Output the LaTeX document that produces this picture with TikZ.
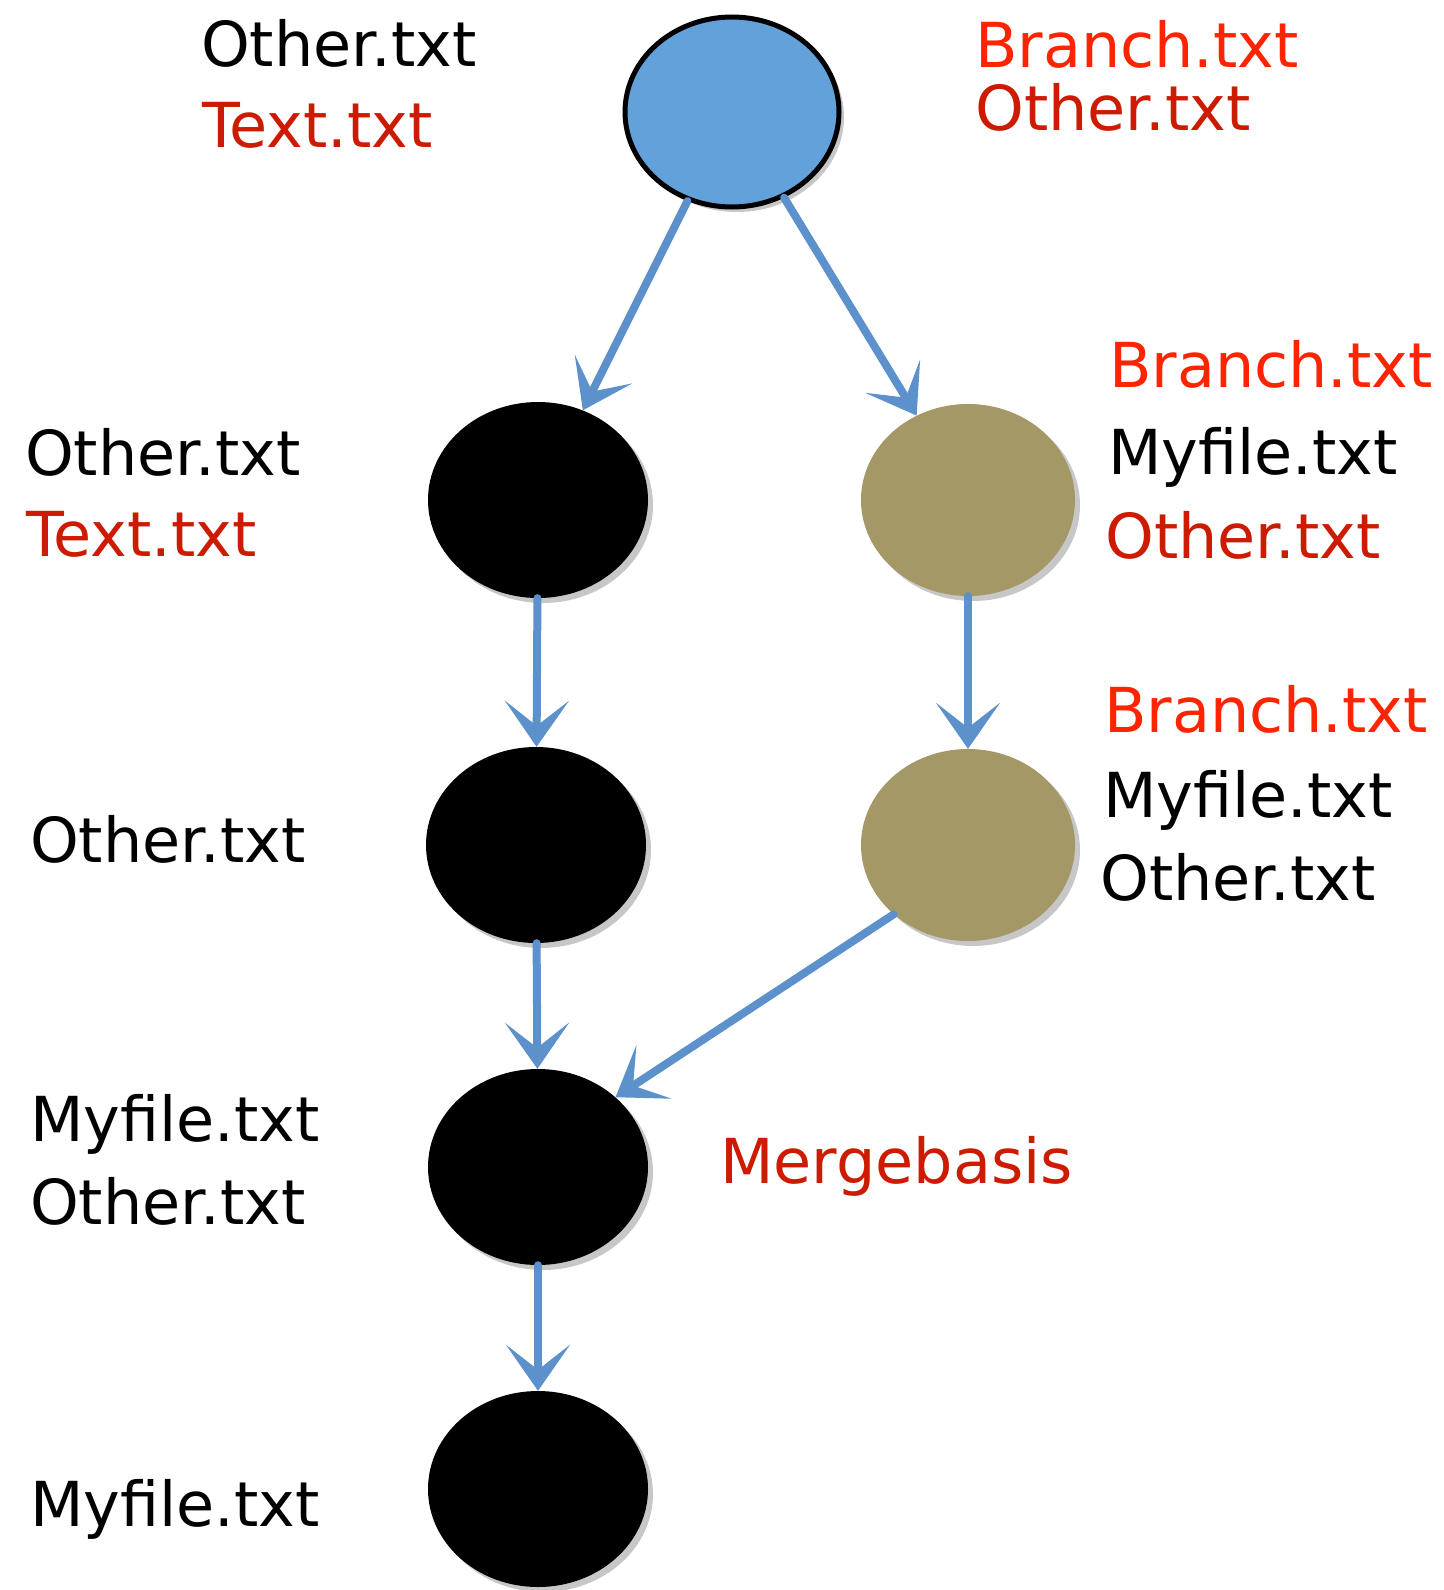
\documentclass[tikz,border=0pt]{standalone}
\usepackage{fontspec}
\setmainfont{DejaVu Sans}
\usetikzlibrary{arrows.meta,shadows,shapes.geometric}
\definecolor{nodeblue}{HTML}{63A1DB}
\definecolor{olive}{HTML}{A39866}
\definecolor{arrowblue}{HTML}{5C91CB}
\definecolor{brightred}{HTML}{FF2400}
\definecolor{darkred}{HTML}{CC1B00}
\tikzset{
  commit/.style={ellipse, minimum width=220pt, minimum height=196pt, inner sep=0pt,
    drop shadow={shadow xshift=5pt, shadow yshift=-5pt, opacity=0.22, fill=black}},
  blackc/.style={commit, fill=black},
  olivec/.style={commit, fill=olive, minimum width=214pt, minimum height=192pt},
  bluec/.style={commit, fill=nodeblue, draw=black, line width=5pt, minimum width=214pt, minimum height=190pt},
  fname/.style={anchor=base west, inner sep=0pt, font=\fontsize{62}{70}\selectfont},
  sketchtip/.tip={Stealth[length=46pt 0 0, width=64pt 0 0, inset=25pt 0 0]},
  link/.style={draw=arrowblue, fill=arrowblue, line width=8pt, line cap=round, -sketchtip}
}
\begin{document}
\begin{tikzpicture}[x=1pt,y=-1pt]
\useasboundingbox (0,0) rectangle (1443,1590);
\fill[white] (0,0) rectangle (1443,1590);
% commits
\node[bluec]  (top) at (732,112) {};
\node[blackc] (b1)  at (538,500) {};
\node[olivec] (o1)  at (968,500) {};
\node[blackc] (b2)  at (536,845) {};
\node[olivec] (o2)  at (968,845) {};
\node[blackc] (b3)  at (538,1167) {};
\node[blackc] (b4)  at (538,1489) {};
% connectors
\draw[link] (top) -- (b1);
\draw[link] (top) -- (o1);
\draw[link] (b1) -- (b2);
\draw[link] (o1) -- (o2);
\draw[link] (b2) -- (b3);
\draw[link] (o2.223) -- (b3.42);
\draw[link] (b3) -- (b4);
% labels
\node[fname] (t1) at (201,66) {Other.txt};
\node[fname, text=darkred] (t2) at (202,147) {Text.txt};
\node[fname, text=brightred] (t3) at (975,67) {Branch.txt};
\node[fname, text=darkred] (t4) at (975,130) {Other.txt};
\node[fname, text=brightred] (r1a) at (1109,387) {Branch.txt};
\node[fname] (r1b) at (1108,474) {Myfile.txt};
\node[fname, text=darkred] (r1c) at (1105,558) {Other.txt};
\node[fname, text=brightred] (r2a) at (1104,732) {Branch.txt};
\node[fname] (r2b) at (1103,817) {Myfile.txt};
\node[fname] (r2c) at (1100,900) {Other.txt};
\node[fname] (l1a) at (25,475) {Other.txt};
\node[fname, text=darkred] (l1b) at (26,556) {Text.txt};
\node[fname] (l2) at (30,862) {Other.txt};
\node[fname] (l3a) at (30,1141) {Myfile.txt};
\node[fname] (l3b) at (30,1224) {Other.txt};
\node[fname] (l4) at (30,1526) {Myfile.txt};
\node[fname, text=darkred] (mb) at (720,1183) {Mergebasis};
\end{tikzpicture}
\end{document}
